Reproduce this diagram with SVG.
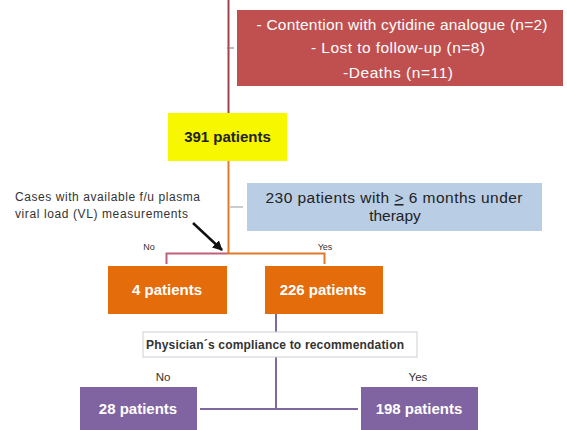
<svg xmlns="http://www.w3.org/2000/svg" width="567" height="430" viewBox="0 0 567 430">
<defs>
<marker id="ah" viewBox="0 0 10 10" refX="9" refY="5" markerWidth="4" markerHeight="4" orient="auto"><path d="M0,0 L10,5 L0,10 z" fill="#111"/></marker>
<style>
text{font-family:"Liberation Sans",Arial,sans-serif;}
.t{font-size:15.5px;text-anchor:middle;fill:#fff;}
.b{font-weight:bold;font-size:15px;}
.d{fill:#222;}
.s{font-size:9px;fill:#333;text-anchor:middle;}
.lbl{font-size:11.5px;fill:#333;text-anchor:middle;}
</style>
</defs>
<rect width="567" height="430" fill="#fff"/>
<g id="connectors" fill="none">
<line x1="228.5" y1="0" x2="228.5" y2="113" stroke="#A34050" stroke-width="2"/>
<line x1="227" y1="48" x2="234" y2="48" stroke="#777" stroke-width="1"/>
<line x1="228.5" y1="161" x2="228.5" y2="253" stroke="#E07A2A" stroke-width="2"/>
<line x1="230" y1="207" x2="243" y2="207" stroke="#999" stroke-width="1"/>
<polyline points="166.5,264 166.5,253.5 228,253.5" stroke="#C0607A" stroke-width="2"/>
<polyline points="228,253.5 324.5,253.5 324.5,264" stroke="#E07A2A" stroke-width="2"/>
<line x1="193" y1="223" x2="222" y2="250" stroke="#111" stroke-width="2.5" marker-end="url(#ah)"/>
<line x1="276" y1="314" x2="276" y2="332" stroke="#7D6AA0" stroke-width="2"/>
<line x1="276" y1="357" x2="276" y2="409" stroke="#7D6AA0" stroke-width="2"/>
<line x1="200" y1="409" x2="358" y2="409" stroke="#7D6AA0" stroke-width="2"/>
</g>
<g id="exclusions">
<rect x="237" y="10" width="326" height="76" fill="#C0504F"/>
<text class="t" x="402" y="30" textLength="291">- Contention with cytidine analogue (n=2)</text>
<text class="t" x="398" y="53" textLength="174">- Lost to follow-up (n=8)</text>
<text class="t" x="398" y="78" textLength="110">-Deaths (n=11)</text>
</g>
<g id="n391">
<rect x="168" y="113" width="119" height="48" fill="#F7F700"/>
<text class="t b d" x="227.5" y="142">391 patients</text>
</g>
<g id="n230">
<rect x="247" y="183" width="295" height="48" fill="#B9CDE5"/>
<text class="t d" x="394" y="203" textLength="257">230 patients with <tspan text-decoration="underline">&gt;</tspan> 6 months under</text>
<text class="t d" x="395" y="221">therapy</text>
</g>
<g id="annotation">
<text x="15" y="201" font-size="12" fill="#333" textLength="185">Cases with available f/u plasma</text>
<text x="15" y="218" font-size="12" fill="#333" textLength="173">viral load (VL) measurements</text>
<text class="s" x="149" y="250">No</text>
<text class="s" x="325" y="250">Yes</text>
</g>
<g id="n4">
<rect x="108" y="266" width="119" height="48" fill="#E46C0A"/>
<text class="t b" x="167" y="295">4 patients</text>
</g>
<g id="n226">
<rect x="265" y="266" width="118" height="48" fill="#E46C0A"/>
<text class="t b" x="323" y="295">226 patients</text>
</g>
<g id="compliance">
<rect x="143" y="332" width="274" height="25" fill="#fff" stroke="#D0D0D8" stroke-width="1"/>
<text x="146" y="348.5" font-size="12" font-weight="bold" fill="#333" textLength="258">Physician´s compliance to recommendation</text>
</g>
<g id="n28">
<rect x="80" y="387" width="117" height="43" fill="#8064A2"/>
<text class="t b" x="138" y="414">28 patients</text>
<text class="lbl" x="163" y="381">No</text>
</g>
<g id="n198">
<rect x="361" y="387" width="117" height="43" fill="#8064A2"/>
<text class="t b" x="419" y="414">198 patients</text>
<text class="lbl" x="418" y="381">Yes</text>
</g>
</svg>
